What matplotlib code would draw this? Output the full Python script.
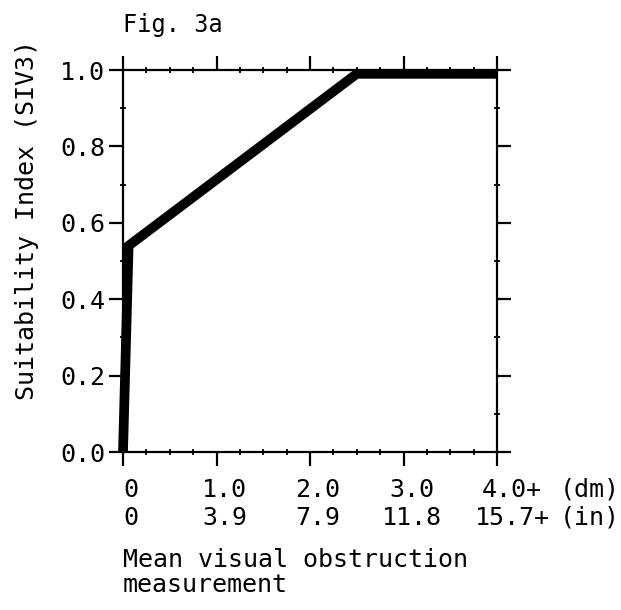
import numpy as np
import matplotlib.pyplot as plt
from matplotlib.ticker import MultipleLocator
from matplotlib.transforms import blended_transform_factory, ScaledTranslation

# suitability curve breakpoints
depth_dm = [0.0, 0.06, 2.5, 4.0]
siv3 = [0.0, 0.54, 0.99, 0.99]

xticks = [0, 1, 2, 3, 4]
dm_labels = ['0', '1.0', '2.0', '3.0', '4.0+']
in_labels = ['0', '3.9', '7.9', '11.8', '15.7+']
yticks = [0.0, 0.2, 0.4, 0.6, 0.8, 1.0]

font = 'DejaVu Sans Mono'
fs = 18
W, H = 621, 610

fig = plt.figure(figsize=(W / 100, H / 100), dpi=100)
ax = fig.add_axes([123 / W, 1 - 452 / H, 374 / W, 382 / H])

ax.plot(depth_dm, siv3, color='black', lw=7, solid_capstyle='butt',
        solid_joinstyle='miter', clip_on=False, zorder=3)

ax.set_xlim(0, 4)
ax.set_ylim(0, 1)
for s in ax.spines.values():
    s.set_linewidth(1.6)

ax.set_xticks(xticks)
ax.set_xticklabels([])
ax.xaxis.set_minor_locator(MultipleLocator(0.25))
ax.set_yticks(yticks)
ax.set_yticklabels(['%.1f' % v for v in yticks], fontfamily=font, fontsize=fs)
ax.yaxis.set_minor_locator(MultipleLocator(0.1))

ax.tick_params(axis='x', which='major', direction='out', length=10, width=1.6,
               top=True)
ax.tick_params(axis='x', which='minor', direction='inout', length=5, width=1.3,
               top=True)
ax.tick_params(axis='y', which='major', direction='out', length=10, width=1.6,
               right=True, pad=3)
ax.tick_params(axis='y', which='minor', direction='inout', length=5, width=1.3,
               right=True)

# two rows of x labels (dm and inches), typed slightly right of the ticks
trans = blended_transform_factory(ax.transData, fig.transFigure)
for x, a, b in zip(xticks, dm_labels, in_labels):
    for lab, ypix in ((a, 497), (b, 525)):
        dx = 8 + (7 if lab.endswith('+') else 0)
        t = trans + ScaledTranslation(dx / 100, 0, fig.dpi_scale_trans)
        ax.text(x, 1 - ypix / H, lab, transform=t, fontfamily=font,
                fontsize=fs, ha='center', va='baseline', clip_on=False)
fig.text(560 / W, 1 - 497 / H, '(dm)', fontfamily=font, fontsize=fs,
         ha='left', va='baseline')
fig.text(560 / W, 1 - 525 / H, '(in)', fontfamily=font, fontsize=fs,
         ha='left', va='baseline')

fig.text(27 / W, 1 - 220 / H, 'Suitability Index (SIV3)', fontfamily=font,
         fontsize=fs, rotation=90, ha='center', va='center')
fig.text(123 / W, 1 - 32 / H, 'Fig. 3a', fontfamily=font, fontsize=17,
         ha='left', va='baseline')
fig.text(123 / W, 1 - 567 / H, 'Mean visual obstruction', fontfamily=font,
         fontsize=fs, ha='left', va='baseline')
fig.text(123 / W, 1 - 592 / H, 'measurement', fontfamily=font,
         fontsize=fs, ha='left', va='baseline')

fig.savefig('out.png', dpi=100)
